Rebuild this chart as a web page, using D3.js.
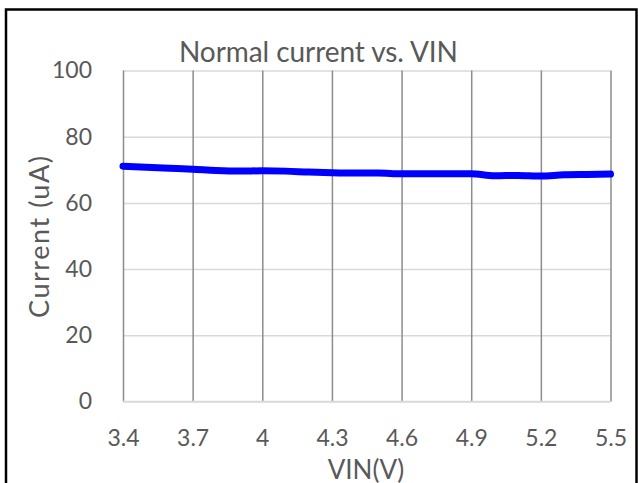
<!DOCTYPE html>
<html>
<head>
<meta charset="utf-8">
<script src="https://cdn.jsdelivr.net/npm/d3@7"></script>
<style>
  html, body { margin: 0; padding: 0; background: #fff; }
  svg { display: block; }
  text { font-family: Lato, "Open Sans", sans-serif; fill: #595959; }
</style>
</head>
<body>
<svg id="chart" width="638" height="483"></svg>
<script>
const vin = [3.4, 3.5, 3.6, 3.7, 3.8, 3.9, 4.0, 4.1, 4.2, 4.3, 4.4, 4.5, 4.6, 4.7, 4.8, 4.9, 5.0, 5.1, 5.2, 5.3, 5.4, 5.5];
const current = [71.1, 70.8, 70.5, 70.2, 69.8, 69.6, 69.7, 69.6, 69.3, 69.1, 69.0, 69.0, 68.8, 68.8, 68.8, 68.8, 68.2, 68.3, 68.1, 68.5, 68.6, 68.7];
const xTicks = [3.4, 3.7, 4.0, 4.3, 4.6, 4.9, 5.2, 5.5];
const yTicks = [0, 20, 40, 60, 80, 100];
const title = "Normal current vs. VIN";
const xTitle = "VIN(V)";
const yTitle = "Current (uA)";

const svg = d3.select("#chart");
const x = d3.scaleLinear().domain([3.4, 5.5]).range([123, 610.5]);
const y = d3.scaleLinear().domain([0, 100]).range([401.5, 70.5]);

// outer frame
svg.append("rect").attr("x", 6).attr("y", 9.5).attr("width", 630.5).attr("height", 490)
  .attr("fill", "none").attr("stroke", "#000").attr("stroke-width", 2.5);

// horizontal gridlines
const yAxis = d3.axisLeft(y).tickValues(yTicks).tickSize(-(x.range()[1] - x.range()[0])).tickPadding(30).tickFormat(d3.format("d"));
const gy = svg.append("g").attr("transform", `translate(${x.range()[0]},0)`).call(yAxis);
gy.select(".domain").remove();
gy.selectAll(".tick line").attr("stroke", "#d9d9d9").attr("stroke-width", 1.5);
gy.selectAll(".tick text").attr("font-size", 23).attr("fill", "#595959").attr("x", -31).attr("dy", "0.32em");

// vertical gridlines
const xAxis = d3.axisBottom(x).tickValues(xTicks).tickSize(-(y.range()[0] - y.range()[1])).tickPadding(0).tickFormat(d => d3.format("")(+d.toFixed(1)));
const gx = svg.append("g").attr("transform", `translate(0,${y.range()[0]})`).call(xAxis);
gx.select(".domain").remove();
gx.selectAll(".tick line").attr("stroke", "#8c8c8c").attr("stroke-width", 1.5);
gx.selectAll(".tick text").attr("font-size", 23).attr("fill", "#595959").attr("y", 44).attr("dy", "0");

// baseline at 0
svg.append("line").attr("x1", x.range()[0]).attr("x2", x.range()[1]).attr("y1", y(0)).attr("y2", y(0))
  .attr("stroke", "#d9d9d9").attr("stroke-width", 1.5);

// data line
const line = d3.line().x((d, i) => x(vin[i])).y(d => y(d)).curve(d3.curveMonotoneX);
svg.append("path").datum(current).attr("d", line)
  .attr("fill", "none").attr("stroke", "#0000ff").attr("stroke-width", 7)
  .attr("stroke-linecap", "round").attr("stroke-linejoin", "round");

// titles
svg.append("text").attr("x", 318.5).attr("y", 62).attr("text-anchor", "middle").attr("font-size", 28)
  .attr("textLength", 279).attr("lengthAdjust", "spacing").text(title);
svg.append("text").attr("x", 366).attr("y", 478.5).attr("text-anchor", "middle").attr("font-size", 26).text(xTitle);
svg.append("text").attr("transform", "translate(49,237) rotate(-90)").attr("text-anchor", "middle").attr("font-size", 27)
  .attr("textLength", 162).attr("lengthAdjust", "spacing").text(yTitle);
</script>
</body>
</html>
